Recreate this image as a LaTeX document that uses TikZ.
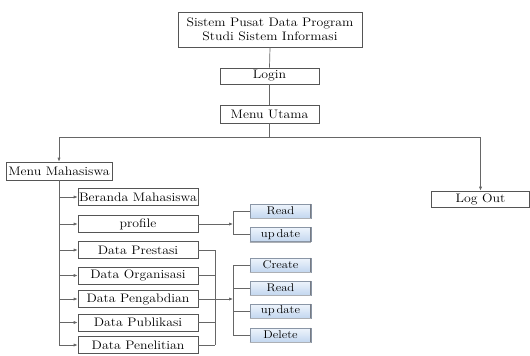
\documentclass[tikz,border=0pt]{standalone}
\usepackage{fontspec}
\setmainfont{Latin Modern Roman}[FakeStretch=1.12]
\usetikzlibrary{arrows.meta}
\definecolor{boxline}{HTML}{555555}
\definecolor{conn}{HTML}{666666}
\definecolor{btntop}{HTML}{EEF4FC}
\definecolor{btnbot}{HTML}{C3D7EF}
\definecolor{btnline}{HTML}{8A96A6}
\definecolor{btnedge}{HTML}{767B84}
\begin{document}
\begin{tikzpicture}[x=1pt,y=-1pt,
  every node/.style={font=\fontsize{12.3}{14}\selectfont, inner sep=0pt},
  plainbox/.style={draw=boxline, line width=0.7pt, fill=white, align=center},
  subbox/.style={plainbox, minimum width=120pt, minimum height=17pt},
  btn/.style={draw=btnline, line width=0.6pt, top color=btntop, bottom color=btnbot,
     minimum width=61pt, minimum height=14pt, font=\fontsize{11.3}{13}\selectfont},
  conline/.style={draw=conn, line width=0.7pt},
  arr/.style={conline, -{Latex[length=4pt,width=3.2pt]}}
]
\useasboundingbox (0,0) rectangle (530,356);
\fill[white] (0,0) rectangle (530,356);

% top chain
\node[plainbox, minimum width=184pt, minimum height=35pt] (title) at (270,29.5)
  {Sistem Pusat Data Program\\Studi Sistem Informasi};
\node[plainbox, minimum width=99pt, minimum height=16pt] (login) at (269.5,76) {Login};
\node[plainbox, minimum width=99pt, minimum height=18pt] (utama) at (269.5,114) {Menu Utama};
\node[plainbox, minimum width=106pt, minimum height=18pt] (mm) at (59,171) {Menu Mahasiswa};
\node[plainbox, minimum width=98pt, minimum height=16pt] (logout) at (480.5,199) {Log Out};

\coordinate (j) at (269.5,137);
\draw[conline] (title.south) -- (login.north);
\draw[conline] (login.south) -- (utama.north);
\draw[conline] (utama.south) -- (j);
\draw[arr] (j) -- (mm.north |- j) -- (mm.north);
\draw[arr] (j) -- (logout.north |- j) -- (logout.north);

% sub menu boxes
\node[subbox] (ber) at (138,197) {Beranda Mahasiswa};
\node[subbox] (prof) at (138,224) {profile};
\node[subbox] (pres) at (138,250) {Data Prestasi};
\node[subbox] (org) at (138,275.5) {Data Organisasi};
\node[subbox] (peng) at (138,299) {Data Pengabdian};
\node[subbox] (pub) at (138,322.5) {Data Publikasi};
\node[subbox] (pen) at (138,345) {Data Penelitian};

\draw[conline] (mm.south) -- (mm.south |- pen.west);
\foreach \b in {ber,prof,pres,org,peng,pub,pen}
  \draw[arr] (mm.south |- \b.west) -- (\b.west);

% buttons
\node[btn] (r1) at (280.5,211) {Read};
\node[btn] (u1) at (280.5,234.5) {up\,date};
\node[btn] (cr) at (280.5,265) {Create};
\node[btn] (r2) at (280.5,288) {Read};
\node[btn] (u2) at (280.5,311) {up\,date};
\node[btn] (del) at (280.5,335) {Delete};
\foreach \b in {r1,u1,cr,r2,u2,del}{
  \draw[btnedge, line width=1.8pt] ([xshift=-0.9pt]\b.north east) -- ([xshift=-0.9pt]\b.south east);
  \draw[btnedge!60, line width=0.9pt] ([yshift=-0.45pt]\b.south west) -- ([yshift=-0.45pt]\b.south east);
}

% profile bracket
\coordinate (pb) at (233,224);
\draw[arr] (prof.east) -- (pb);
\draw[conline] (r1.west) -- (pb |- r1.west) -- (pb |- u1.west) -- (u1.west);

% data bracket
\coordinate (dj) at (215,299);
\coordinate (db) at (233,299);
\foreach \b in {pres,org,peng,pub,pen}
  \draw[conline] (\b.east) -- (dj |- \b.east);
\draw[conline] (dj |- pres.east) -- (dj |- pen.east);
\draw[arr] (dj) -- (db);
\draw[conline] (cr.west) -- (db |- cr.west) -- (db |- del.west) -- (del.west);
\foreach \b in {r2,u2}
  \draw[conline] (db |- \b.west) -- (\b.west);
\end{tikzpicture}
\end{document}
